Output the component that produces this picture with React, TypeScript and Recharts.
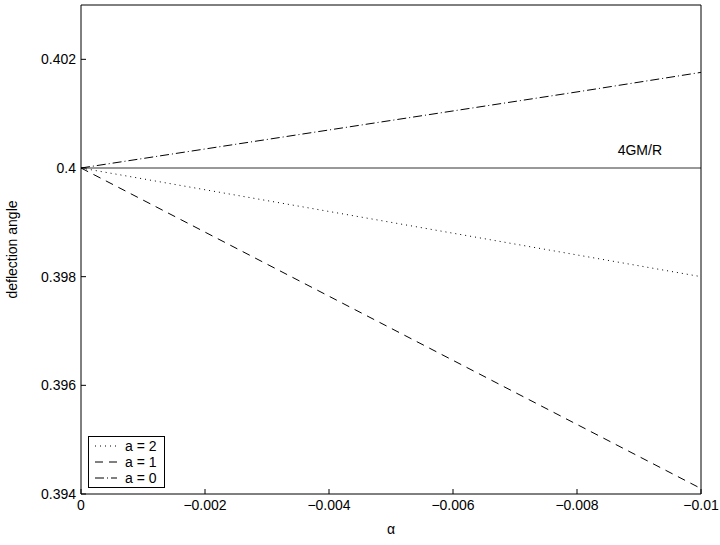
import { LineChart, Line, XAxis, YAxis, ReferenceLine } from 'recharts';

const alphas = [0, -0.002, -0.004, -0.006, -0.008, -0.01];
const a2 = [0.4, 0.3996, 0.3992, 0.3988, 0.3984, 0.398];
const a1 = [0.4, 0.39882, 0.39764, 0.39646, 0.39528, 0.3941];
const a0 = [0.4, 0.40035, 0.4007, 0.40105, 0.4014, 0.40176];
const gm = [0.4, 0.4, 0.4, 0.4, 0.4, 0.4];
const newtonLevel = 0.4;

const xTicks = [0, -0.002, -0.004, -0.006, -0.008, -0.01];
const yTicks = [0.394, 0.396, 0.398, 0.4, 0.402];

const data = alphas.map((x, i) => ({ x, a2: a2[i], a1: a1[i], a0: a0[i], gm: gm[i] }));

const series = [
  { key: 'a2', name: 'a = 2', dash: '1 4' },
  { key: 'a1', name: 'a = 1', dash: '8 6' },
  { key: 'a0', name: 'a = 0', dash: '9 3 1 3' },
];

const font = { fontFamily: '"Liberation Sans", Arial, sans-serif', fontSize: 14, fill: '#000' };

const fmtX = (v: number) => (v === 0 ? '0' : '\u2212' + String(Math.abs(v)));

const LegendBox = () => (
  <div
    style={{
      position: 'absolute',
      left: 88,
      top: 436,
      border: '1px solid #000',
      background: '#fff',
      padding: '1px 7px 1px 5px',
      fontFamily: font.fontFamily,
      fontSize: 14,
      lineHeight: '16px',
    }}
  >
    {series.map((s) => (
      <div key={s.key} style={{ display: 'flex', alignItems: 'center' }}>
        <svg width={26} height={16}>
          <line x1={1} y1={8} x2={23} y2={8} stroke="#000" strokeDasharray={s.dash} />
        </svg>
        <span style={{ marginLeft: 5 }}>{s.name}</span>
      </div>
    ))}
  </div>
);

const GmLabel = (props: any) => {
  const vb = props.viewBox || {};
  return (
    <text x={vb.x + vb.width - 39} y={vb.y - 13} textAnchor="end" {...font}>
      4GM/R
    </text>
  );
};

export default function App() {
  return (
    <div style={{ position: 'absolute', left: 0, top: 0, width: 720, height: 545, background: '#fff' }}>
      <LineChart width={720} height={545} data={data} margin={{ top: 4, right: 18, bottom: 6, left: 8 }}>
        <XAxis
          dataKey="x"
          type="number"
          domain={[-0.01, 0]}
          reversed
          ticks={xTicks}
          tickFormatter={fmtX}
          tickSize={-5}
          tickMargin={11}
          height={45}
          interval={0}
          stroke="#000"
          tick={font}
          label={{ value: '\u03b1', position: 'insideBottom', offset: 5, ...font }}
        />
        <XAxis
          xAxisId="top"
          dataKey="x"
          type="number"
          orientation="top"
          domain={[-0.01, 0]}
          reversed
          ticks={xTicks}
          tick={false}
          tickSize={-5}
          height={1}
          interval={0}
          stroke="#000"
        />
        <YAxis
          type="number"
          domain={[0.394, 0.403]}
          ticks={yTicks}
          tickFormatter={(v: number) => String(v)}
          tickSize={-5}
          tickMargin={10}
          width={73}
          interval={0}
          stroke="#000"
          tick={font}
          label={{ value: 'deflection angle', angle: -90, position: 'insideLeft', offset: 4, style: { textAnchor: 'middle' }, ...font }}
        />
        <YAxis
          yAxisId="right"
          type="number"
          orientation="right"
          domain={[0.394, 0.403]}
          ticks={yTicks}
          tick={false}
          tickSize={-5}
          width={1}
          interval={0}
          stroke="#000"
        />
        <Line
          dataKey="gm"
          xAxisId="top"
          yAxisId="right"
          type="linear"
          stroke="#333"
          strokeWidth={1}
          dot={false}
          isAnimationActive={false}
        />
        <ReferenceLine y={newtonLevel} strokeOpacity={0} label={<GmLabel />} />
        {series.map((s) => (
          <Line
            key={s.key}
            dataKey={s.key}
            name={s.name}
            type="linear"
            stroke="#000"
            strokeWidth={1}
            strokeDasharray={s.dash}
            dot={false}
            isAnimationActive={false}
          />
        ))}
      </LineChart>
      <LegendBox />
    </div>
  );
}
